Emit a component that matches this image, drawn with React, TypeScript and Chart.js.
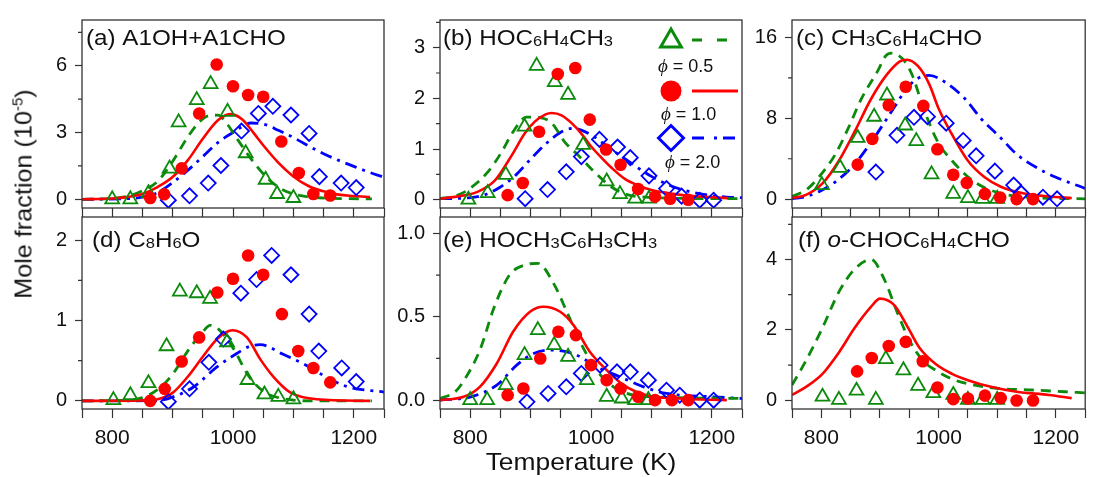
import React, { useEffect, useRef } from 'react';
import Chart from 'chart.js/auto';

// ---------- axis ticks ----------
const X_TICKS = [750, 800, 850, 900, 950, 1000, 1050, 1100, 1150, 1200, 1250];
const X_LABELS = [800, 1000, 1200];

// ---------- (a) A1OH+A1CHO ----------
const aTriT = [800, 830, 860, 895, 910, 940, 963, 991, 1021, 1054, 1073, 1100];
const aTriY = [0.0, 0.0, 0.27, 1.38, 3.46, 4.46, 5.18, 3.93, 2.07, 0.88, 0.24, 0.06];
const aCirT = [863, 886, 915, 944, 973, 1000, 1025, 1050, 1080, 1109, 1133, 1161];
const aCirY = [0.06, 0.23, 1.39, 3.86, 6.06, 5.08, 4.69, 4.61, 2.6, 1.18, 0.24, 0.17];
const aDiaT = [893, 928, 959, 980, 1014, 1042, 1066, 1096, 1126, 1143, 1179, 1204];
const aDiaY = [-0.04, 0.16, 0.73, 1.52, 3.07, 3.86, 4.18, 3.79, 2.96, 1.02, 0.73, 0.53];
const aGreenT = [750, 800, 825, 850, 875, 900, 925, 945, 960, 975, 990, 1000, 1025, 1050, 1075, 1100, 1125, 1160, 1230];
const aGreenY = [0, 0.04, 0.14, 0.38, 0.8, 1.7, 2.8, 3.5, 3.76, 3.78, 3.4, 3.0, 2.0, 1.15, 0.55, 0.24, 0.11, 0.05, 0.02];
const aRedT = [750, 800, 825, 850, 875, 900, 925, 950, 975, 995, 1015, 1035, 1050, 1075, 1100, 1125, 1150, 1175, 1200, 1227];
const aRedY = [0, 0.04, 0.1, 0.24, 0.55, 1.0, 1.75, 2.72, 3.55, 3.83, 3.6, 2.95, 2.43, 1.65, 1.03, 0.6, 0.36, 0.21, 0.15, 0.1];
const aBlueT = [750, 825, 850, 875, 900, 925, 950, 975, 1000, 1030, 1055, 1075, 1100, 1125, 1150, 1175, 1200, 1225, 1250];
const aBlueY = [0, 0.03, 0.1, 0.3, 0.75, 1.3, 1.92, 2.55, 3.0, 3.43, 3.35, 3.1, 2.78, 2.4, 2.05, 1.75, 1.48, 1.22, 0.99];

// ---------- (b) HOC6H4CH3 ----------
const bTriT = [797, 829, 859, 890, 910, 940, 962, 987, 1026, 1048, 1073, 1096];
const bTriY = [0.0, 0.13, 0.49, 1.44, 2.64, 2.32, 2.07, 1.08, 0.36, 0.11, 0.02, 0.02];
const bCirT = [862, 887, 914, 945, 974, 998, 1025, 1049, 1078, 1106, 1131, 1161];
const bCirY = [0.09, 0.33, 1.34, 2.48, 2.6, 1.58, 0.99, 0.69, 0.21, 0.06, 0.02, 0];
const bDiaT = [891, 928, 959, 984, 1014, 1044, 1065, 1096, 1125, 1150, 1180, 1203];
const bDiaY = [0.02, 0.2, 0.55, 0.85, 1.19, 1.04, 0.83, 0.47, 0.22, 0.07, -0.01, -0.01];
const bGreenT = [750, 775, 797, 830, 852, 870, 893, 915, 935, 957, 976, 1007, 1034, 1060, 1090, 1130, 1250];
const bGreenY = [0.02, 0.07, 0.2, 0.56, 0.94, 1.32, 1.63, 1.62, 1.51, 1.13, 0.91, 0.53, 0.25, 0.1, 0.05, 0.03, 0.02];
const bRedT = [750, 758, 813, 841, 869, 891, 907, 924, 935, 952, 968, 985, 1001, 1018, 1034, 1056, 1078, 1100, 1123, 1139, 1170, 1200, 1227];
const bRedY = [0.02, 0.03, 0.16, 0.38, 0.88, 1.32, 1.54, 1.68, 1.71, 1.66, 1.51, 1.29, 1.04, 0.82, 0.63, 0.41, 0.28, 0.19, 0.14, 0.11, 0.07, 0.05, 0.03];
const bBlueT = [750, 800, 825, 850, 875, 900, 925, 950, 970, 1000, 1025, 1050, 1075, 1100, 1125, 1150, 1175, 1200, 1225, 1250];
const bBlueY = [0.02, 0.04, 0.1, 0.25, 0.48, 0.8, 1.1, 1.33, 1.41, 1.28, 1.07, 0.86, 0.65, 0.46, 0.31, 0.2, 0.13, 0.08, 0.05, 0.04];

// ---------- (c) CH3C6H4CHO ----------
const cTriT = [801, 832, 862, 890, 912, 943, 962, 988, 1025, 1050, 1075, 1100];
const cTriY = [1.39, 3.1, 6.06, 8.16, 10.26, 7.29, 5.74, 2.45, 0.52, 0.1, 0.03, 0.03];
const cCirT = [862, 887, 915, 944, 974, 998, 1025, 1048, 1079, 1105, 1133, 1161];
const cCirY = [3.42, 5.97, 9.29, 11.13, 9.23, 4.94, 2.42, 1.61, 0.52, 0.16, 0, 0];
const cDiaT = [893, 929, 958, 981, 1013, 1042, 1064, 1096, 1128, 1141, 1178, 1202];
const cDiaY = [2.68, 6.32, 8.1, 8.16, 7.52, 5.81, 4.29, 2.77, 1.39, 0.58, 0.19, 0.03];
const cGreenT = [750, 774, 796, 824, 846, 868, 896, 910, 920, 940, 955, 973, 998, 1023, 1061, 1105, 1160, 1250];
const cGreenY = [0.26, 0.9, 2.19, 4.45, 7.03, 9.9, 12.68, 14.2, 14.45, 13.8, 12.3, 9.2, 5.74, 3.8, 1.71, 0.58, 0.16, 0.03];
const cRedT = [750, 774, 802, 830, 857, 885, 912, 934, 946, 965, 984, 1000, 1023, 1050, 1078, 1106, 1144, 1188, 1227];
const cRedY = [0.1, 0.42, 1.55, 3.8, 6.7, 9.94, 12.35, 13.65, 13.8, 13.16, 11.39, 8.97, 6.39, 3.8, 2.19, 1.23, 0.58, 0.26, 0.1];
const cBlueT = [750, 774, 796, 824, 857, 890, 923, 945, 962, 984, 1012, 1045, 1072, 1106, 1133, 1166, 1199, 1250];
const cBlueY = [0.03, 0.26, 0.74, 1.71, 3.48, 6.06, 8.97, 10.9, 11.87, 12.26, 11.55, 9.94, 8.0, 6.06, 4.45, 3.16, 2.19, 1.06];

// ---------- (d) C8H6O ----------
const dTriT = [802, 830, 860, 890, 912, 940, 962, 990, 1024, 1052, 1075, 1100];
const dTriY = [0.01, 0.07, 0.22, 0.68, 1.36, 1.34, 1.27, 0.73, 0.26, 0.08, 0.05, 0.02];
const dCirT = [863, 887, 915, 944, 974, 1000, 1025, 1050, 1081, 1108, 1133, 1161];
const dCirY = [0, 0.15, 0.49, 0.79, 1.35, 1.52, 1.81, 1.57, 1.08, 0.62, 0.41, 0.23];
const dDiaT = [893, 928, 960, 984, 1013, 1039, 1064, 1096, 1126, 1142, 1180, 1204];
const dDiaY = [-0.01, 0.15, 0.48, 0.77, 1.34, 1.51, 1.81, 1.57, 1.08, 0.62, 0.41, 0.24];
const dGreenT = [750, 825, 850, 875, 900, 925, 950, 962, 975, 1000, 1025, 1050, 1075, 1100, 1125, 1230];
const dGreenY = [0, 0.01, 0.04, 0.14, 0.33, 0.62, 0.86, 0.94, 0.9, 0.66, 0.32, 0.12, 0.04, 0.01, 0, 0];
const dRedT = [750, 850, 875, 900, 925, 950, 975, 999, 1023, 1045, 1067, 1094, 1139, 1227];
const dRedY = [0, 0.005, 0.02, 0.1, 0.3, 0.55, 0.78, 0.88, 0.79, 0.52, 0.3, 0.11, 0.02, 0];
const dBlueT = [750, 875, 901, 934, 973, 1000, 1028, 1045, 1083, 1117, 1144, 1188, 1250];
const dBlueY = [0, 0.005, 0.05, 0.17, 0.42, 0.56, 0.68, 0.7, 0.58, 0.46, 0.34, 0.18, 0.11];

// ---------- (e) HOCH3C6H3CH3 ----------
const eTriT = [800, 828, 859, 890, 912, 939, 962, 993, 1026, 1051, 1073, 1095];
const eTriY = [0, 0, 0.09, 0.27, 0.42, 0.33, 0.26, 0.12, 0.02, 0.01, 0, 0];
const eCirT = [862, 888, 916, 946, 975, 1000, 1026, 1049, 1078, 1106, 1134, 1161];
const eCirY = [0.03, 0.07, 0.25, 0.41, 0.39, 0.21, 0.12, 0.07, 0.02, 0, 0, 0];
const eDiaT = [894, 929, 959, 984, 1015, 1043, 1065, 1095, 1125, 1147, 1180, 1203];
const eDiaY = [-0.01, 0.04, 0.08, 0.16, 0.21, 0.17, 0.17, 0.12, 0.06, 0.03, 0, 0];
const eGreenT = [750, 775, 790, 816, 840, 865, 890, 912, 938, 960, 982, 1009, 1037, 1070, 1100, 1250];
const eGreenY = [0.01, 0.05, 0.12, 0.3, 0.56, 0.75, 0.81, 0.82, 0.7, 0.53, 0.35, 0.18, 0.08, 0.03, 0.02, 0.01];
const eRedT = [750, 789, 816, 844, 871, 899, 921, 949, 971, 998, 1026, 1054, 1092, 1147, 1225];
const eRedY = [0, 0.02, 0.08, 0.22, 0.41, 0.53, 0.56, 0.53, 0.45, 0.29, 0.18, 0.09, 0.03, 0.01, 0];
const eBlueT = [750, 801, 844, 877, 905, 932, 960, 982, 1009, 1048, 1087, 1125, 1203, 1250];
const eBlueY = [0, 0.02, 0.09, 0.21, 0.28, 0.3, 0.29, 0.26, 0.2, 0.14, 0.08, 0.04, 0.02, 0.01];

// ---------- (f) o-CHOC6H4CHO ----------
const fTriT = [802, 830, 860, 893, 910, 940, 965, 991, 1025, 1050, 1075, 1100];
const fTriY = [0.1, 0.01, 0.27, 0.01, 1.17, 0.85, 0.41, 0.2, 0.15, 0.01, 0.01, 0.01];
const fCirT = [861, 886, 915, 944, 973, 998, 1025, 1050, 1079, 1106, 1133, 1161];
const fCirY = [0.82, 1.2, 1.54, 1.66, 1.11, 0.36, 0.03, 0.05, 0.13, 0.06, -0.01, -0.01];
const fGreenT = [750, 774, 802, 830, 857, 885, 907, 929, 951, 973, 995, 1028, 1061, 1106, 1161, 1215, 1250];
const fGreenY = [0.43, 1.13, 2.06, 3.08, 3.73, 4.0, 3.45, 2.52, 1.68, 1.13, 0.85, 0.57, 0.43, 0.33, 0.29, 0.24, 0.21];
const fRedT = [750, 774, 802, 830, 857, 885, 900, 924, 945, 967, 995, 1023, 1050, 1089, 1133, 1188, 1227];
const fRedY = [0.15, 0.38, 0.75, 1.36, 2.06, 2.66, 2.89, 2.71, 2.15, 1.5, 1.03, 0.75, 0.57, 0.38, 0.24, 0.15, 0.06];

// ---------- styling ----------
const FONT = '"Liberation Sans", Arial, Helvetica, sans-serif';
const GREEN = '#0b8a0b';
const RED = '#ff0000';
const BLUE = '#0000ff';
const AXIS = '#333333';

type Seg = { t: string; sub?: boolean; it?: boolean };
type Series = [number[], number[]];
interface Panel {
  key: string;
  left: number; top: number; w: number; h: number;
  bottomRow: boolean; padR: number;
  yMin: number; yMax: number; yMajor: number[]; yMinor: number[];
  yDec: number;
  title: Seg[]; titleDx: number; titleDy: number;
  tri: Series; cir: Series; dia?: Series;
  green: Series; red: Series; blue?: Series;
  legend?: boolean;
}

const PAD_L = 70;

const PANELS: Panel[] = [
  {
    key: 'a', left: 82, top: 15, w: 302, h: 197, bottomRow: false, padR: 12,
    yMin: -0.39, yMax: 8.06, yMajor: [0, 3, 6], yMinor: [1.5, 4.5, 7.5], yDec: 0,
    title: [{ t: '(a) A1OH+A1CHO' }], titleDx: 4, titleDy: 25,
    tri: [aTriT, aTriY], cir: [aCirT, aCirY], dia: [aDiaT, aDiaY],
    green: [aGreenT, aGreenY], red: [aRedT, aRedY], blue: [aBlueT, aBlueY],
  },
  {
    key: 'b', left: 440, top: 15, w: 302, h: 197, bottomRow: false, padR: 12,
    yMin: -0.164, yMax: 3.546, yMajor: [0, 1, 2, 3], yMinor: [0.5, 1.5, 2.5, 3.5], yDec: 0,
    title: [{ t: '(b) HOC' }, { t: '6', sub: true }, { t: 'H' }, { t: '4', sub: true }, { t: 'CH' }, { t: '3', sub: true }],
    titleDx: 3, titleDy: 25,
    tri: [bTriT, bTriY], cir: [bCirT, bCirY], dia: [bDiaT, bDiaY],
    green: [bGreenT, bGreenY], red: [bRedT, bRedY], blue: [bBlueT, bBlueY],
    legend: true,
  },
  {
    key: 'c', left: 792, top: 15, w: 301, h: 197, bottomRow: false, padR: 2,
    yMin: -0.88, yMax: 17.74, yMajor: [0, 8, 16], yMinor: [4, 12], yDec: 0,
    title: [{ t: '(c) CH' }, { t: '3', sub: true }, { t: 'C' }, { t: '6', sub: true }, { t: 'H' }, { t: '4', sub: true }, { t: 'CHO' }],
    titleDx: 4, titleDy: 24.5,
    tri: [cTriT, cTriY], cir: [cCirT, cCirY], dia: [cDiaT, cDiaY],
    green: [cGreenT, cGreenY], red: [cRedT, cRedY], blue: [cBlueT, cBlueY],
  },
  {
    key: 'd', left: 82, top: 213, w: 302, h: 196, bottomRow: true, padR: 12,
    yMin: -0.101, yMax: 2.289, yMajor: [0, 1, 2], yMinor: [0.5, 1.5], yDec: 0,
    title: [{ t: '(d) C' }, { t: '8', sub: true }, { t: 'H' }, { t: '6', sub: true }, { t: 'O' }],
    titleDx: 10, titleDy: 29.5,
    tri: [dTriT, dTriY], cir: [dCirT, dCirY], dia: [dDiaT, dDiaY],
    green: [dGreenT, dGreenY], red: [dRedT, dRedY], blue: [dBlueT, dBlueY],
  },
  {
    key: 'e', left: 440, top: 213, w: 302, h: 196, bottomRow: true, padR: 12,
    yMin: -0.053, yMax: 1.098, yMajor: [0, 0.5, 1.0], yMinor: [0.25, 0.75], yDec: 1,
    title: [{ t: '(e) HOCH' }, { t: '3', sub: true }, { t: 'C' }, { t: '6', sub: true }, { t: 'H' }, { t: '3', sub: true }, { t: 'CH' }, { t: '3', sub: true }],
    titleDx: 3, titleDy: 29.5,
    tri: [eTriT, eTriY], cir: [eCirT, eCirY], dia: [eDiaT, eDiaY],
    green: [eGreenT, eGreenY], red: [eRedT, eRedY], blue: [eBlueT, eBlueY],
  },
  {
    key: 'f', left: 792, top: 213, w: 301, h: 196, bottomRow: true, padR: 2,
    yMin: -0.25, yMax: 5.21, yMajor: [0, 2, 4], yMinor: [1, 3, 5], yDec: 0,
    title: [{ t: '(f) ' }, { t: 'o', it: true }, { t: '-CHOC' }, { t: '6', sub: true }, { t: 'H' }, { t: '4', sub: true }, { t: 'CHO' }],
    titleDx: 6, titleDy: 30,
    tri: [fTriT, fTriY], cir: [fCirT, fCirY],
    green: [fGreenT, fGreenY], red: [fRedT, fRedY],
  },
];

function pts(s: Series) {
  return s[0].map((x, i) => ({ x, y: s[1][i] }));
}

function drawLegend(ctx: CanvasRenderingContext2D, L: number, T: number) {
  ctx.save();
  // triangle + dashed green
  ctx.lineWidth = 3;
  ctx.strokeStyle = GREEN;
  const tx = L + 231, ty = T + 21, r = 12;
  ctx.beginPath();
  ctx.moveTo(tx, ty - r);
  ctx.lineTo(tx + r * Math.sin(2 * Math.PI / 3), ty - r * Math.cos(2 * Math.PI / 3));
  ctx.lineTo(tx + r * Math.sin(4 * Math.PI / 3), ty - r * Math.cos(4 * Math.PI / 3));
  ctx.closePath();
  ctx.stroke();
  ctx.setLineDash([10, 15]);
  ctx.beginPath(); ctx.moveTo(L + 252, T + 20); ctx.lineTo(L + 290, T + 20); ctx.stroke();
  // circle + red solid
  ctx.setLineDash([]);
  ctx.fillStyle = RED;
  ctx.beginPath(); ctx.arc(L + 231, T + 71, 10.5, 0, Math.PI * 2); ctx.fill();
  ctx.strokeStyle = RED;
  ctx.beginPath(); ctx.moveTo(L + 252, T + 71); ctx.lineTo(L + 298, T + 71); ctx.stroke();
  // diamond + blue dash-dot
  ctx.strokeStyle = BLUE;
  const dx = L + 231, dy = T + 118, d = 12.5;
  ctx.beginPath();
  ctx.moveTo(dx - d, dy); ctx.lineTo(dx, dy - d); ctx.lineTo(dx + d, dy); ctx.lineTo(dx, dy + d);
  ctx.closePath(); ctx.stroke();
  ctx.setLineDash([12, 10, 3, 6]);
  ctx.beginPath(); ctx.moveTo(L + 252, T + 118); ctx.lineTo(L + 296, T + 118); ctx.stroke();
  ctx.setLineDash([]);
  // labels
  const labels: [string, number, number][] = [['0.5', 218, 47], ['1.0', 221, 95], ['2.0', 225, 143]];
  ctx.fillStyle = '#111';
  ctx.textBaseline = 'middle';
  labels.forEach(([v, x, y]) => {
    ctx.font = `italic 19px "Liberation Serif", "DejaVu Serif", serif`;
    const px = L + x;
    ctx.fillText('\u03d5', px, T + y);
    const wphi = ctx.measureText('\u03d5').width;
    ctx.font = `18px ${FONT}`;
    ctx.fillText(' = ' + v, px + wphi, T + y);
  });
  ctx.restore();
}

function makeDecor(p: Panel) {
  return {
    id: 'decor_' + p.key,
    afterDraw(chart: any) {
      const ctx: CanvasRenderingContext2D = chart.ctx;
      const a = chart.chartArea;
      const ys = chart.scales.y;
      ctx.save();
      ctx.strokeStyle = AXIS;
      ctx.lineWidth = 1.3;
      ctx.strokeRect(a.left, a.top, a.right - a.left, a.bottom - a.top);
      ctx.lineWidth = 1.2;
      ctx.beginPath();
      p.yMinor.forEach((v) => {
        const py = ys.getPixelForValue(v);
        ctx.moveTo(a.left - 4, py);
        ctx.lineTo(a.left, py);
      });
      ctx.stroke();
      ctx.restore();

      ctx.save();
      ctx.fillStyle = '#111';
      ctx.textBaseline = 'alphabetic';
      ctx.translate(a.left + p.titleDx, a.top + p.titleDy);
      ctx.scale(1.1, 1);
      let x = 0;
      p.title.forEach((s) => {
        ctx.font = `${s.it ? 'italic ' : ''}${s.sub ? 15 : 22}px ${FONT}`;
        ctx.fillText(s.t, x, s.sub ? 1 : 0);
        x += ctx.measureText(s.t).width;
      });
      ctx.restore();

      if (p.legend) drawLegend(ctx, a.left, a.top);
    },
  };
}

function PanelChart({ p }: { p: Panel }) {
  const ref = useRef<HTMLCanvasElement | null>(null);
  const padT = p.bottomRow ? 16 : 15;
  const padB = p.bottomRow ? 50 : 16;
  const cw = PAD_L + p.w + p.padR;
  const chh = padT + p.h + padB;

  useEffect(() => {
    if (!ref.current) return;
    const datasets: any[] = [
      {
        data: pts(p.cir), showLine: false, pointStyle: 'circle', pointRadius: 6.3,
        pointBackgroundColor: RED, pointBorderColor: RED, pointBorderWidth: 0, order: 0,
      },
      {
        data: pts(p.tri), showLine: false, pointStyle: 'triangle', pointRadius: 8,
        pointBackgroundColor: 'rgba(0,0,0,0)', pointBorderColor: GREEN, pointBorderWidth: 1.8, order: 1,
      },
    ];
    if (p.dia) {
      datasets.push({
        data: pts(p.dia), showLine: false, pointStyle: 'rectRot', pointRadius: 7.5,
        pointBackgroundColor: 'rgba(0,0,0,0)', pointBorderColor: BLUE, pointBorderWidth: 1.8, order: 2,
      });
    }
    datasets.push({
      data: pts(p.red), showLine: true, pointRadius: 0, borderColor: RED, borderWidth: 2.6,
      cubicInterpolationMode: 'monotone', order: 3,
    });
    datasets.push({
      data: pts(p.green), showLine: true, pointRadius: 0, borderColor: GREEN, borderWidth: 2.8,
      borderDash: [10, 7], cubicInterpolationMode: 'monotone', order: 4,
    });
    if (p.blue) {
      datasets.push({
        data: pts(p.blue), showLine: true, pointRadius: 0, borderColor: BLUE, borderWidth: 2.8,
        borderDash: [12, 6, 3, 6], cubicInterpolationMode: 'monotone', order: 5,
      });
    }

    const chart = new Chart(ref.current, {
      type: 'scatter',
      data: { datasets },
      options: {
        animation: false,
        responsive: false,
        devicePixelRatio: 1,
        events: [],
        layout: { padding: { left: 0, top: padT, right: p.padR, bottom: 0 } },
        plugins: { legend: { display: false }, tooltip: { enabled: false } },
        scales: {
          x: {
            type: 'linear', min: 750, max: 1250,
            afterBuildTicks: (s: any) => { s.ticks = X_TICKS.map((v) => ({ value: v })); },
            afterFit: (s: any) => { s.height = padB; },
            ticks: {
              autoSkip: false, maxRotation: 0, minRotation: 0, padding: 8, color: '#111',
              font: { family: FONT, size: 21 },
              callback: (v: any) => (p.bottomRow && X_LABELS.includes(Number(v)) ? String(v) : ''),
            },
            grid: { drawOnChartArea: false, drawTicks: true, tickLength: 9, tickWidth: 1.2, tickColor: AXIS, color: AXIS },
            border: { display: false },
          },
          y: {
            type: 'linear', min: p.yMin, max: p.yMax,
            afterBuildTicks: (s: any) => { s.ticks = p.yMajor.map((v) => ({ value: v })); },
            afterFit: (s: any) => { s.width = PAD_L; },
            ticks: {
              padding: 8, color: '#111', font: { family: FONT, size: 20 },
              callback: (v: any) => Number(v).toFixed(p.yDec),
            },
            grid: { drawOnChartArea: false, drawTicks: true, tickLength: 7, tickWidth: 1.2, tickColor: AXIS, color: AXIS },
            border: { display: false },
          },
        },
      } as any,
      plugins: [makeDecor(p)],
    });
    return () => chart.destroy();
  }, []);

  return (
    <canvas
      ref={ref}
      width={cw}
      height={chh}
      style={{ position: 'absolute', left: p.left - PAD_L, top: p.top - padT, width: cw, height: chh, display: 'block' }}
    />
  );
}

export default function App() {
  return (
    <div style={{ position: 'absolute', left: 0, top: 0, width: 1095, height: 477, overflow: 'hidden', background: '#fff' }}>
      {PANELS.map((p) => <PanelChart key={p.key} p={p} />)}
      <div
        style={{
          position: 'absolute', left: 25, top: 194, whiteSpace: 'nowrap',
          transform: 'translate(-50%, -50%) rotate(-90deg) scaleX(1.05)',
          font: `24px ${FONT}`, lineHeight: '24px', color: '#111',
        }}
      >
        Mole fraction (10<span style={{ fontSize: '0.6em', position: 'relative', top: '-0.65em' }}>-5</span>)
      </div>
      <div
        style={{
          position: 'absolute', left: 581, top: 449.6, whiteSpace: 'nowrap',
          transform: 'translate(-50%, 0) scaleX(1.1)',
          font: `24px ${FONT}`, lineHeight: '24px', color: '#111',
        }}
      >
        Temperature (K)
      </div>
    </div>
  );
}
